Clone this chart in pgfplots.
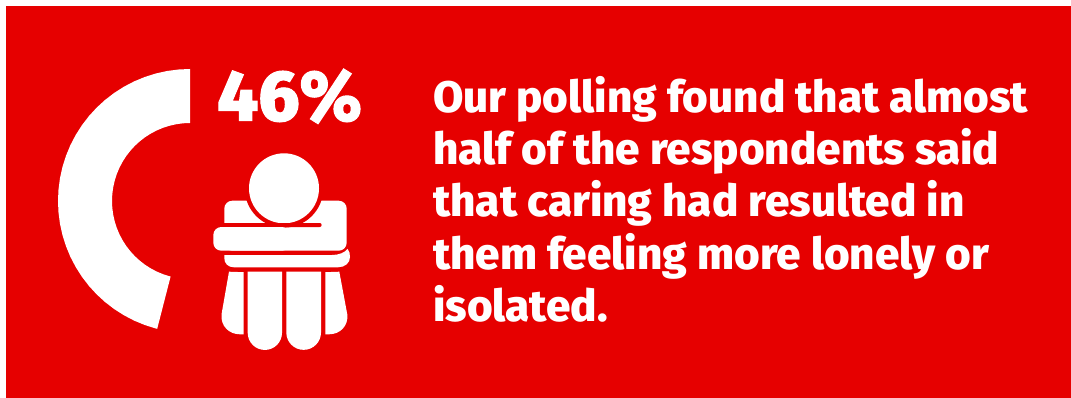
\documentclass[border=0pt]{standalone}
\usepackage{pgfplots}
\usepackage{fontspec}
\pgfplotsset{compat=1.18}
\usepgfplotslibrary{polar}
\setmainfont{Fira Sans}[BoldFont={Fira Sans ExtraBold}]
\newfontfamily\heavyfont{Fira Sans ExtraBold}[FakeBold=1.5]
\definecolor{brandred}{HTML}{E60000}
\tikzset{bodyline/.style={anchor=base west, inner sep=0pt, text=white, font=\fontsize{44.2}{44.2}\selectfont\bfseries}}
\begin{document}
\begin{tikzpicture}
\useasboundingbox (0,0) rectangle (1071bp,398bp);
% Canvas in image units: one unit per big point, y running downwards
\begin{axis}[
  at={(0,0)}, anchor=south west,
  scale only axis, width=1071bp, height=398bp,
  xmin=0, xmax=1071, ymin=0, ymax=398, y dir=reverse,
  hide axis, clip=false]
\addplot[fill=brandred, draw=none] coordinates {(6,6) (1071,6) (1071,398) (6,398)} --cycle;
% Seated figure: shoulders, gap round the head, head, fold of the arm
\fill[white, rounded corners=8bp] (224.3,200.7) rectangle (346.7,250.7);
\fill[brandred] (284,188.3) circle[radius=39.3];
\fill[white] (284,188.3) circle[radius=35];
\fill[brandred] (205,223) -- (319.7,223) arc[start angle=-90, end angle=90, radius=2] -- (205,227) -- cycle;
\fill[white, rounded corners=8bp] (213.3,227) -- (290,227) -- (290,250.7) -- (213.3,250.7) -- cycle;
% Lower arm
\fill[white] (224.3,255) -- (332,255) .. controls (339,255) and (345,252.5) .. (347.5,248.8)
  .. controls (349.5,251) and (350,254) .. (350,257) .. controls (350,263) and (345,267.3) .. (338,267.3)
  -- (234,267.3) .. controls (228,267.3) and (224.3,263.5) .. (224.3,258) -- cycle;
% Legs
\fill[white] (247.7,271.7) -- (282,271.7) -- (282,332.8) arc[start angle=0, end angle=180, radius=17.15] -- cycle;
\fill[white] (286.3,271.7) -- (321,271.7) -- (321,332.5) arc[start angle=0, end angle=180, radius=17.35] -- cycle;
\fill[white] (229,271.7) -- (243.7,272.2) -- (243.7,334.3) -- (240,334.3)
  .. controls (229,334.3) and (220.5,326) .. (221.5,314.5) -- cycle;
\fill[white] (339.3,271.7) -- (325.3,272.2) -- (325.3,334.3) -- (329,334.3)
  .. controls (340,334.3) and (348.5,326) .. (347.3,314.5) -- cycle;
% Text
\node[anchor=base west, inner sep=0pt, text=white, font=\fontsize{72}{72}\selectfont\heavyfont] at (217,120.7) {46\%};
\node[bodyline] at (433,112) {Our polling found that almost};
\node[bodyline] at (433,164) {half of the respondents said};
\node[bodyline] at (433,216.5) {that caring had resulted in};
\node[bodyline] at (433,269) {them feeling more lonely or};
\node[bodyline] at (433,321) {isolated.};
\end{axis}
% Ring: 46 per cent of the circle, counter-clockwise from the top
\begin{polaraxis}[
  at={(190bp,197bp)}, anchor=center,
  scale only axis, width=264bp, height=264bp,
  ymin=0, ymax=132, hide axis, clip=false]
\addplot[fill=white, draw=none] coordinates {
  (90,132) (95,132) (100,132) (105,132) (110,132) (115,132) (120,132) (125,132) (130,132)
  (135,132) (140,132) (145,132) (150,132) (155,132) (160,132) (165,132) (170,132) (175,132)
  (180,132) (185,132) (190,132) (195,132) (200,132) (205,132) (210,132) (215,132) (220,132)
  (225,132) (230,132) (235,132) (240,132) (245,132) (250,132) (255,132) (255.6,132)
  (255.6,78) (255,78) (250,78) (245,78) (240,78) (235,78) (230,78) (225,78) (220,78)
  (215,78) (210,78) (205,78) (200,78) (195,78) (190,78) (185,78) (180,78) (175,78)
  (170,78) (165,78) (160,78) (155,78) (150,78) (145,78) (140,78) (135,78) (130,78)
  (125,78) (120,78) (115,78) (110,78) (105,78) (100,78) (95,78) (90,78)} --cycle;
\end{polaraxis}
\end{tikzpicture}
\end{document}
